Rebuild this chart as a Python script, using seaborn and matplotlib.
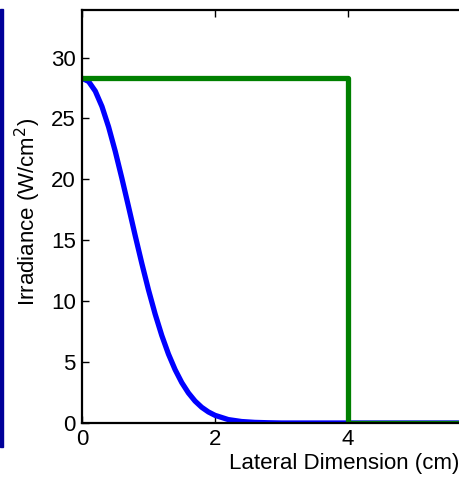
import matplotlib
matplotlib.use("Agg")
import matplotlib.pyplot as plt
import seaborn as sns
import pandas as pd
from matplotlib.patches import Rectangle

# Gaussian beam profile
gauss_x = [0.0, 0.1, 0.2, 0.3, 0.4, 0.5, 0.6, 0.7, 0.8, 0.9, 1.0, 1.1, 1.2, 1.3,
           1.4, 1.5, 1.6, 1.7, 1.8, 1.9, 2.0, 2.2, 2.4, 2.6, 2.8, 3.0, 8.0]
gauss_y = [28.3, 28.03, 27.24, 25.98, 24.30, 22.30, 20.08, 17.75, 15.38, 13.09,
           10.92, 8.94, 7.18, 5.66, 4.38, 3.32, 2.47, 1.80, 1.29, 0.91, 0.63,
           0.28, 0.12, 0.05, 0.02, 0.0, 0.0]

# Top-hat profile
hat_x = [0.0, 4.0, 4.0, 8.0]
hat_y = [28.3, 28.3, 0.0, 0.0]

x_ticks = [0, 2, 4]
y_ticks = [0, 5, 10, 15, 20, 25, 30]

sns.set_style("white")
plt.rcParams['font.family'] = ['Liberation Sans', 'DejaVu Sans']

fig = plt.figure(figsize=(4.6, 4.78), dpi=100)
ax = fig.add_axes([82/460, 55/478, 532/460, 413/478])

df_g = pd.DataFrame({"x": gauss_x, "y": gauss_y})
df_h = pd.DataFrame({"x": hat_x, "y": hat_y})
sns.lineplot(data=df_g, x="x", y="y", ax=ax, color="#0000ff", linewidth=3.8,
             sort=False, estimator=None)
sns.lineplot(data=df_h, x="x", y="y", ax=ax, color="#008000", linewidth=3.8,
             sort=False, estimator=None)

ax.set_xlim(0, 8)
ax.set_ylim(0, 33.9)
ax.set_xticks(x_ticks)
ax.set_yticks(y_ticks)
ax.tick_params(direction="in", length=5, width=1, labelsize=16,
               colors="black", top=True, right=True, bottom=True, left=True,
               pad=4.5)
for s in ax.spines.values():
    s.set_linewidth(1.6)
    s.set_color("black")

ax.set_xlabel("Lateral Dimension (cm)", fontsize=16, color="black")
ax.xaxis.set_label_coords(0.4935, -0.072)
ax.set_ylabel("Irradiance (W/cm$^2$)", fontsize=16, color="black")
ax.yaxis.set_label_coords(-39/532, 0.512)

fig.patches.append(Rectangle((0, 1 - 447/478), 3/460, 438/478,
                             transform=fig.transFigure, color="#000099",
                             zorder=10))

fig.savefig("out.png", dpi=100)
